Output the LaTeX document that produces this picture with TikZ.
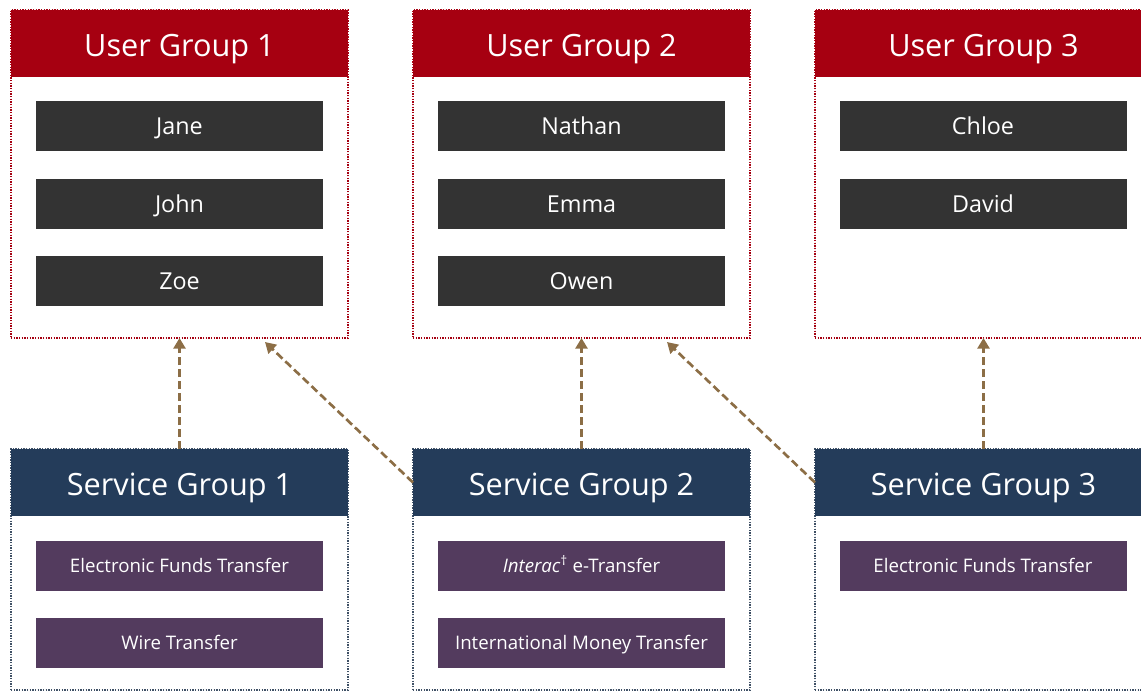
\documentclass[tikz,border=0pt]{standalone}
\usepackage{fontspec}
\setmainfont{Open Sans}
\usepackage{tikz}
\usepackage{xcolor}
\usetikzlibrary{positioning,arrows.meta}

\definecolor{ugred}{RGB}{166,0,17}
\definecolor{sgblue}{RGB}{36,60,90}
\definecolor{itemgray}{RGB}{51,51,51}
\definecolor{itempurple}{RGB}{83,59,94}
\definecolor{linkbrown}{RGB}{140,110,70}

\tikzset{
  panel/.style={draw, densely dotted, line width=1pt, anchor=north west,
    minimum width=252.75pt, inner sep=0pt, outer sep=0pt},
  userpanel/.style={panel, draw=ugred, minimum height=246pt},
  servpanel/.style={panel, draw=sgblue!70!gray, minimum height=180.75pt},
  header/.style={anchor=north, minimum width=252.75pt, minimum height=50.25pt,
    inner sep=0pt, outer sep=0pt, text=white, text height=19.5pt, text depth=0pt,
    font=\fontsize{23}{26}\selectfont},
  userhead/.style={header, fill=ugred},
  servhead/.style={header, fill=sgblue},
  item/.style={minimum width=215.25pt, minimum height=37.5pt, inner sep=0pt,
    text=white, text depth=0pt},
  person/.style={item, fill=itemgray, text height=12.5pt,
    font=\fontsize{17.5}{20}\selectfont},
  service/.style={item, fill=itempurple, text height=10pt,
    font=\fontsize{14}{17}\selectfont},
  link/.style={draw=linkbrown, dash pattern=on 6pt off 3pt, line width=2pt,
    -{Triangle[length=8pt,width=9pt]}}
}

\begin{document}
\begin{tikzpicture}[x=0.75pt,y=-0.75pt]
\useasboundingbox (0,0) rectangle (1141,692);

% user groups
\node[userpanel] (ug1) at (11,10) {};
\node[userpanel] (ug2) at (413,10) {};
\node[userpanel] (ug3) at (815,10) {};
\node[userhead] (uh1) at (ug1.north) {User Group 1};
\node[userhead] (uh2) at (ug2.north) {User Group 2};
\node[userhead] (uh3) at (ug3.north) {User Group 3};

% users
\node[person] (jane) at (179.5,126) {Jane};
\node[person] (john) at (179.5,204) {John};
\node[person] (zoe) at (179.5,281) {Zoe};
\node[person] (nathan) at (581.5,126) {Nathan};
\node[person] (emma) at (581.5,204) {Emma};
\node[person] (owen) at (581.5,281) {Owen};
\node[person] (chloe) at (983,126) {Chloe};
\node[person] (david) at (983,204) {David};

% service groups
\node[servpanel] (sg1) at (11,449) {};
\node[servpanel] (sg2) at (413,449) {};
\node[servpanel] (sg3) at (815,449) {};
\node[servhead] (sh1) at (sg1.north) {Service Group 1};
\node[servhead] (sh2) at (sg2.north) {Service Group 2};
\node[servhead] (sh3) at (sg3.north) {Service Group 3};

% services
\node[service] (eft1) at (179.5,565.5) {Electronic Funds Transfer};
\node[service] (wire) at (179.5,642.5) {Wire Transfer};
\node[service] (etr) at (581.5,565.5) {\textit{Interac}\textsuperscript{\textdagger} e-Transfer};
\node[service] (imt) at (581.5,642.5) {International Money Transfer};
\node[service] (eft3) at (983,565.5) {Electronic Funds Transfer};

% links
\coordinate (t1) at (265,342);
\coordinate (t2) at (667,342);
\draw[link] (sh1.north) -- (ug1.south);
\draw[link] (sh2.west) -- (t1);
\draw[link] (sh2.north) -- (ug2.south);
\draw[link] (sh3.west) -- (t2);
\draw[link] (sh3.north) -- (ug3.south);

\end{tikzpicture}
\end{document}
